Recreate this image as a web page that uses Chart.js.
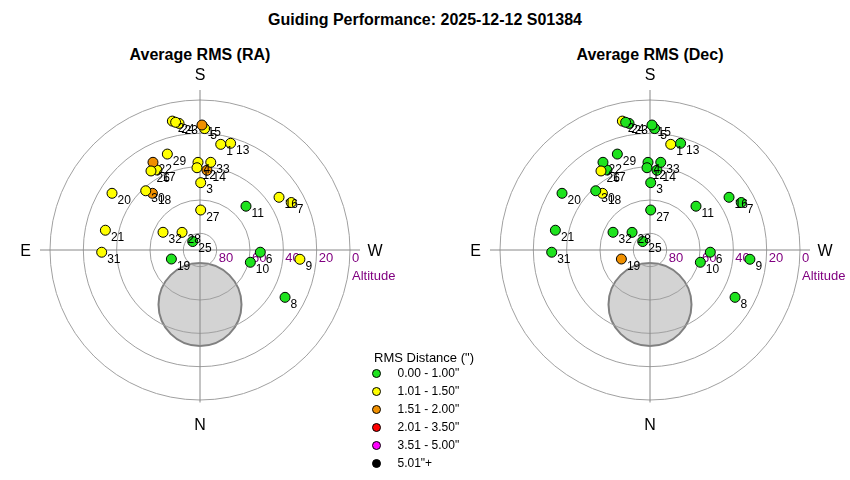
<!DOCTYPE html>
<html>
<head>
<meta charset="utf-8">
<script src="https://cdn.jsdelivr.net/npm/chart.js@4.4.1/dist/chart.umd.min.js"></script>
<style>
  body { margin: 0; background: #fff; font-family: Arial, "Liberation Sans", sans-serif; }
  #page { position: relative; width: 850px; height: 480px; overflow: hidden; }
  #mainTitle { position: absolute; left: 0; width: 850px; top: 11px; line-height: 18px; text-align: center; font-weight: bold; font-size: 16px; }
  .sub { position: absolute; top: 46px; line-height: 18px; width: 400px; text-align: center; font-weight: bold; font-size: 16px; }
  .box { position: absolute; top: 50px; width: 400px; height: 400px; }
  #legend { position: absolute; left: 372px; top: 349px; width: 130px; height: 125px; font-size: 12px; }
  #legend .ttl { position: absolute; left: 2px; top: 0; line-height: 18px; font-size: 13px; white-space: nowrap; }
  #legend .row { position: absolute; left: 0; height: 18px; line-height: 18px; white-space: nowrap; }
  #legend .dot { position: absolute; left: 0; top: 5px; width: 7px; height: 7px; border-radius: 50%; border: 1px solid #000; }
  #legend .txt { position: absolute; left: 25.5px; top: 0; }
</style>
</head>
<body>
<div id="page">
  <div id="mainTitle">Guiding Performance: 2025-12-12 S01384</div>
  <div class="sub" style="left:0">Average RMS (RA)</div>
  <div class="sub" style="left:450px">Average RMS (Dec)</div>
  <div class="box" style="left:0"><canvas id="raChart" width="400" height="400"></canvas></div>
  <div class="box" style="left:450px"><canvas id="decChart" width="400" height="400"></canvas></div>
  <div id="legend"></div>
</div>
<script>
// session numbers and where each one sat on the sky (degrees)
const labels = ['1','2','3','4','5','6','7','8','9','10','11','12','13','14','15','16','17',
                '18','19','20','21','22','23','24','25','26','27','28','29','30','31','32','33'];
const altitude = [25.4, 10.9, 49.6, 37.4, 17.1, 53.8, 28.3, 31.6, 29.8, 58.9, 51.9, 40.6, 23.4, 42.0, 15.0, 33.0, 35.5,
                  45.6, 72.0, 27.2, 32.0, 30.3, 13.0, 12.0, 83.3, 34.2, 66.0, 74.9, 29.2, 41.8, 31.0, 65.4, 37.0];
const azimuth = [191.1, 167.9, 180.6, 178.7, 182.2, 272.1, 242.5, 299.1, 275.3, 283.7, 226.4, 177.9, 196.0, 185.0, 180.9, 236.3, 151.7,
                 140.0, 72.5, 122.8, 101.8, 151.8, 170.6, 169.2, 139.3, 148.2, 181.0, 134.5, 161.2, 137.5, 88.7, 115.6, 187.0];

// RMS bin index per session (0 = best)
const raBin  = [1,1,1,1,1,0,1,0,1,0,0,1,1,2,2,1,1, 2,0,1,1,2,1,1,0,1,1,1,1,1,1,1,1];
const decBin = [1,1,0,0,0,0,0,0,0,0,0,0,0,0,0,0,0, 1,2,0,0,0,0,0,0,1,0,0,0,0,0,0,0];

const binLabels = ['0.00 - 1.00"', '1.01 - 1.50"', '1.51 - 2.00"', '2.01 - 3.50"', '3.51 - 5.00"', '5.01"+'];
const binColors = ['#1ee31e', '#ffff00', '#f09000', '#ff0000', '#ff00ff', '#000000'];

const altTicks = [80, 60, 40, 20, 0];
const poleAlt = 57.3, poleRadius = 24.9;  // grey circle below the zenith

// turn alt/az into plot coords: S up, E left
function toXY(alt, az) {
  const zd = 90 - alt, a = az * Math.PI / 180;
  return { x: -zd * Math.sin(a), y: -zd * Math.cos(a) };
}

const skyGrid = {
  id: 'skyGrid',
  beforeDatasetsDraw(chart) {
    const ctx = chart.ctx, sx = chart.scales.x, sy = chart.scales.y;
    const cx = sx.getPixelForValue(0), cy = sy.getPixelForValue(0);
    const k = sx.getPixelForValue(1) - cx;
    ctx.save();
    // grey circle
    ctx.beginPath();
    ctx.arc(cx, sy.getPixelForValue(-(90 - poleAlt)), poleRadius * k, 0, Math.PI * 2);
    ctx.fillStyle = '#d3d3d3';
    ctx.fill();
    ctx.lineWidth = 2;
    ctx.strokeStyle = '#808080';
    ctx.stroke();
    // altitude rings
    ctx.lineWidth = 1;
    ctx.strokeStyle = '#a0a0a0';
    altTicks.forEach(alt => {
      ctx.beginPath();
      ctx.arc(cx, cy, (90 - alt) * k, 0, Math.PI * 2);
      ctx.stroke();
    });
    // cross lines
    ctx.strokeStyle = '#888';
    ctx.beginPath();
    ctx.moveTo(cx, sy.getPixelForValue(96));
    ctx.lineTo(cx, sy.getPixelForValue(-91.5));
    ctx.moveTo(sx.getPixelForValue(-96), cy);
    ctx.lineTo(sx.getPixelForValue(96), cy);
    ctx.stroke();
    // compass letters (baseline = centre + half cap height)
    ctx.fillStyle = '#000';
    ctx.font = '16px Arial, "Liberation Sans"';
    ctx.textAlign = 'center';
    ctx.textBaseline = 'alphabetic';
    ctx.fillText('S', cx, sy.getPixelForValue(105.6) + 5.8);
    ctx.fillText('N', cx, sy.getPixelForValue(-104.6) + 5.8);
    ctx.fillText('E', sx.getPixelForValue(-104.6), cy + 5.8);
    ctx.fillText('W', sx.getPixelForValue(105), cy + 5.8);
    // altitude tick labels
    ctx.fillStyle = '#800080';
    ctx.font = '13px Arial, "Liberation Sans"';
    ctx.textAlign = 'left';
    ctx.textBaseline = 'middle';
    altTicks.forEach(alt => {
      ctx.fillText(String(alt), sx.getPixelForValue(90 - alt) + 2, cy + 8);
    });
    ctx.fillText('Altitude', sx.getPixelForValue(90) + 2, cy + 26);
    ctx.restore();
  },
  afterDatasetsDraw(chart) {
    const ctx = chart.ctx;
    const meta = chart.getDatasetMeta(0);
    ctx.save();
    ctx.fillStyle = '#000';
    ctx.font = '12px Arial, "Liberation Sans"';
    ctx.textAlign = 'left';
    ctx.textBaseline = 'middle';
    meta.data.forEach((pt, i) => {
      ctx.fillText(labels[i], pt.x + 5.5, pt.y + 7.5);
    });
    ctx.restore();
  }
};

function makeSky(id, bins) {
  const pts = altitude.map((alt, i) => toXY(alt, azimuth[i]));
  return new Chart(document.getElementById(id), {
    type: 'scatter',
    data: {
      datasets: [{
        data: pts,
        pointRadius: 5,
        pointHoverRadius: 5,
        pointBackgroundColor: bins.map(b => binColors[b]),
        pointBorderColor: '#000',
        pointBorderWidth: 1,
        clip: false
      }]
    },
    options: {
      responsive: false,
      animation: false,
      // keep the plot area the full canvas so 1 deg = 400/240 px
      layout: { padding: 0, autoPadding: false },
      scales: {
        x: { type: 'linear', min: -120, max: 120, display: false },
        y: { type: 'linear', min: -120, max: 120, display: false }
      },
      plugins: { legend: { display: false }, tooltip: { enabled: false } }
    },
    plugins: [skyGrid]
  });
}

makeSky('raChart', raBin);
makeSky('decChart', decBin);

// legend for the colour bins
const legend = document.getElementById('legend');
let html = '<div class="ttl">RMS Distance (")</div>';
binLabels.forEach((txt, i) => {
  const top = 14.7 + i * 18.1;
  html += '<div class="row" style="top:' + top.toFixed(1) + 'px"><span class="dot" style="background:' +
          binColors[i] + '"></span><span class="txt">' + txt + '</span></div>';
});
legend.innerHTML = html;
</script>
</body>
</html>
